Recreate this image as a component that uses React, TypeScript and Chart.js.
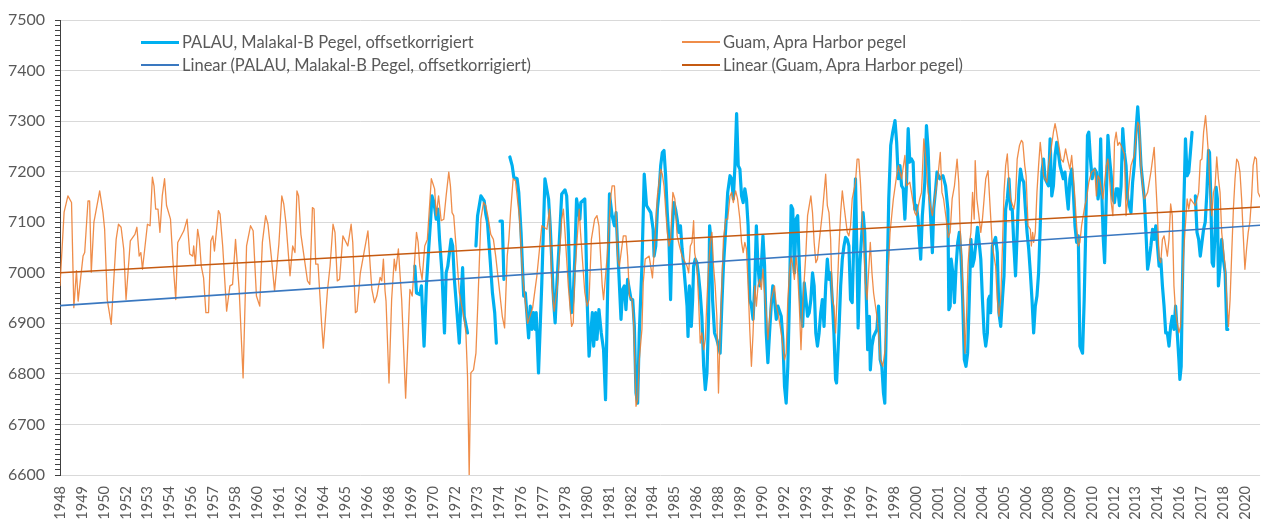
import React, { useEffect, useRef } from 'react';
import { Chart, registerables } from 'chart.js';

Chart.register(...registerables);

// ---------- axis settings ----------
const yMin = 6600;
const yMax = 7500;
const yMajorStep = 100;
const yMinorStep = 10;
const xStart = 1948;
const xEnd = 2020.88;
const labelStepMonths = 16;

const seriesNames = [
  'PALAU, Malakal-B Pegel, offsetkorrigiert',
  'Guam, Apra Harbor pegel',
  'Linear (PALAU, Malakal-B Pegel, offsetkorrigiert)',
  'Linear (Guam, Apra Harbor pegel)',
];

// ---------- Guam, Apra Harbor (decimal year / level) ----------
const guamYears = [
  1948.00, 1948.25, 1948.48, 1948.70, 1948.84, 1949.00, 1949.10, 1949.40, 1949.50, 1949.70, 1949.80, 1949.90,
  1950.06, 1950.41, 1950.61, 1950.71, 1950.87, 1951.11, 1951.41, 1951.55, 1951.71, 1951.87, 1952.01, 1952.27,
  1952.55, 1952.67, 1952.81, 1952.91, 1953.01, 1953.31, 1953.47, 1953.61, 1953.71, 1953.81, 1953.95, 1954.07,
  1954.21, 1954.35, 1954.47, 1954.71, 1954.85, 1955.03, 1955.15, 1955.52, 1955.72, 1955.88, 1956.06, 1956.12,
  1956.22, 1956.36, 1956.46, 1956.58, 1956.72, 1956.86, 1957.02, 1957.16, 1957.28, 1957.38, 1957.62, 1957.72,
  1957.88, 1958.12, 1958.32, 1958.48, 1958.66, 1958.88, 1959.12, 1959.33, 1959.57, 1959.73, 1959.93, 1960.13,
  1960.29, 1960.49, 1960.63, 1960.83, 1961.03, 1961.29, 1961.47, 1961.59, 1961.73, 1961.97, 1962.13, 1962.27,
  1962.39, 1962.49, 1962.63, 1963.03, 1963.17, 1963.33, 1963.43, 1963.53, 1963.67, 1963.89, 1963.99, 1964.24,
  1964.40, 1964.58, 1964.70, 1964.84, 1964.98, 1965.18, 1965.48, 1965.68, 1965.78, 1965.94, 1966.04, 1966.24,
  1966.50, 1966.70, 1966.84, 1966.94, 1967.10, 1967.24, 1967.44, 1967.54, 1967.64, 1967.74, 1967.80, 1967.98,
  1968.14, 1968.30, 1968.39, 1968.55, 1968.75, 1968.99, 1969.25, 1969.39, 1969.65, 1969.75, 1969.85, 1969.99,
  1970.15, 1970.31, 1970.45, 1970.55, 1970.65, 1970.75, 1970.85, 1970.99, 1971.15, 1971.31, 1971.45, 1971.61,
  1971.71, 1971.81, 1971.91, 1972.05, 1972.25, 1972.55, 1972.65, 1972.75, 1972.85, 1972.95, 1973.11, 1973.26,
  1973.40, 1973.56, 1973.72, 1973.86, 1974.00, 1974.16, 1974.32, 1974.46, 1974.66, 1974.86, 1975.00, 1975.16,
  1975.26, 1975.36, 1975.52, 1975.66, 1975.90, 1976.10, 1976.40, 1976.70, 1976.96, 1977.16, 1977.26, 1977.57,
  1977.73, 1977.87, 1978.01, 1978.21, 1978.47, 1978.57, 1978.67, 1978.87, 1979.07, 1979.17, 1979.27, 1979.53,
  1979.61, 1979.87, 1980.01, 1980.13, 1980.27, 1980.47, 1980.61, 1980.73, 1980.93, 1981.01, 1981.23, 1981.43,
  1981.53, 1981.67, 1981.77, 1981.87, 1981.97, 1982.21, 1982.37, 1982.47, 1982.58, 1982.74, 1982.84, 1982.98,
  1983.08, 1983.18, 1983.34, 1983.42, 1983.54, 1983.78, 1983.98, 1984.08, 1984.28, 1984.48, 1984.58, 1984.68,
  1984.78, 1984.88, 1984.98, 1985.08, 1985.22, 1985.34, 1985.48, 1985.62, 1985.78, 1986.08, 1986.18, 1986.28,
  1986.38, 1986.48, 1986.54, 1986.68, 1986.78, 1986.88, 1986.98, 1987.09, 1987.19, 1987.29, 1987.39, 1987.49,
  1987.59, 1987.69, 1987.79, 1987.89, 1987.99, 1988.09, 1988.19, 1988.29, 1988.43, 1988.55, 1988.69, 1988.79,
  1988.89, 1989.03, 1989.15, 1989.29, 1989.39, 1989.49, 1989.59, 1989.69, 1989.79, 1989.89, 1989.99, 1990.09,
  1990.19, 1990.29, 1990.39, 1990.49, 1990.59, 1990.69, 1990.79, 1990.89, 1990.99, 1991.09, 1991.19, 1991.39,
  1991.50, 1991.60, 1991.80, 1992.00, 1992.10, 1992.20, 1992.30, 1992.40, 1992.50, 1992.60, 1992.70, 1992.80,
  1992.90, 1993.00, 1993.10, 1993.30, 1993.40, 1993.60, 1993.70, 1993.80, 1993.90, 1994.00, 1994.10, 1994.30,
  1994.50, 1994.60, 1994.70, 1994.80, 1994.90, 1995.00, 1995.10, 1995.20, 1995.30, 1995.41, 1995.51, 1995.61,
  1995.81, 1995.91, 1996.01, 1996.11, 1996.31, 1996.41, 1996.51, 1996.61, 1996.71, 1996.81, 1996.91, 1997.01,
  1997.21, 1997.31, 1997.41, 1997.61, 1997.71, 1997.81, 1997.97, 1998.11, 1998.21, 1998.41, 1998.61, 1998.81,
  1998.91, 1999.11, 1999.31, 1999.41, 1999.61, 1999.91, 2000.01, 2000.21, 2000.32, 2000.46, 2000.58, 2000.72,
  2000.86, 2000.98, 2001.12, 2001.32, 2001.46, 2001.56, 2001.66, 2001.82, 2001.95, 2002.06, 2002.18, 2002.32,
  2002.48, 2002.58, 2002.66, 2002.78, 2002.88, 2002.96, 2003.06, 2003.14, 2003.22, 2003.32, 2003.42, 2003.52,
  2003.58, 2003.68, 2003.78, 2003.92, 2004.02, 2004.12, 2004.22, 2004.36, 2004.62, 2004.82, 2004.92, 2005.02,
  2005.13, 2005.23, 2005.33, 2005.43, 2005.53, 2005.63, 2005.73, 2005.93, 2006.03, 2006.13, 2006.27, 2006.39,
  2006.47, 2006.59, 2006.67, 2006.79, 2006.93, 2006.99, 2007.07, 2007.13, 2007.23, 2007.33, 2007.43, 2007.53,
  2007.63, 2007.73, 2007.93, 2008.03, 2008.19, 2008.33, 2008.43, 2008.53, 2008.63, 2008.79, 2008.93, 2009.07,
  2009.19, 2009.33, 2009.44, 2009.54, 2009.64, 2009.74, 2009.84, 2009.94, 2010.04, 2010.24, 2010.34, 2010.48,
  2010.64, 2010.84, 2010.94, 2011.04, 2011.14, 2011.34, 2011.54, 2011.64, 2011.74, 2011.84, 2011.94, 2012.04,
  2012.14, 2012.24, 2012.34, 2012.44, 2012.64, 2012.74, 2012.94, 2013.04, 2013.24, 2013.34, 2013.45, 2013.55,
  2013.65, 2013.75, 2013.85, 2014.05, 2014.25, 2014.45, 2014.55, 2014.65, 2014.75, 2014.85, 2014.95, 2015.05,
  2015.15, 2015.25, 2015.35, 2015.45, 2015.55, 2015.65, 2015.75, 2015.95, 2016.05, 2016.15, 2016.25, 2016.45,
  2016.55, 2016.65, 2016.95, 2017.15, 2017.25, 2017.35, 2017.45, 2017.57, 2017.65, 2017.75, 2017.85, 2017.95,
  2018.05, 2018.15, 2018.25, 2018.35, 2018.45, 2018.55, 2018.65, 2018.76, 2018.86, 2018.96, 2019.06, 2019.16,
  2019.26, 2019.36, 2019.46, 2019.56, 2019.66, 2019.76, 2019.86, 2019.96, 2020.06, 2020.16, 2020.26, 2020.36,
  2020.46, 2020.56, 2020.66, 2020.76, 2020.88,
];
const guamLevels = [
  6975, 7120, 7152, 7139, 6931, 7004, 6944, 7033, 7040, 7142, 7142, 7001,
  7100, 7162, 7119, 7086, 6947, 6898, 7066, 7096, 7090, 7047, 6947, 7063,
  7076, 7090, 7033, 7040, 7007, 7096, 7093, 7189, 7172, 7126, 7126, 7080,
  7152, 7186, 7133, 7106, 7027, 6947, 7060, 7083, 7106, 7037, 7033, 7053,
  7017, 7086, 7066, 7013, 6990, 6921, 6921, 7063, 7073, 7043, 7123, 7116,
  7053, 6924, 6974, 6977, 7066, 6967, 6792, 7053, 7093, 7083, 6954, 6934,
  7060, 7113, 7096, 7033, 6964, 7056, 7152, 7136, 7096, 6994, 7053, 7040,
  7162, 7152, 7076, 6984, 6977, 7129, 7126, 7017, 7017, 6898, 6851, 6964,
  7013, 7096, 7080, 6984, 6987, 7073, 7053, 7096, 7060, 6921, 6924, 7000,
  7047, 7083, 7013, 6967, 6941, 6954, 6991, 6984, 7027, 6964, 6944, 6782,
  6947, 7027, 7004, 7047, 6947, 6752, 6967, 6954, 7080, 7060, 7013, 6987,
  7053, 7066, 7136, 7186, 7176, 7166, 7113, 7152, 7103, 7106, 7152, 7199,
  7172, 7119, 7113, 7053, 6961, 6908, 6881, 6795, 6600, 6802, 6808, 6841,
  6961, 7106, 7139, 7133, 7109, 7076, 7066, 7033, 6974, 6914, 6891, 7033,
  7066, 7119, 7186, 7182, 7110, 6990, 6900, 6930, 6994, 7060, 7093, 7086,
  7126, 6974, 6924, 6974, 7106, 7126, 7080, 6974, 6894, 6901, 7001, 7126,
  7080, 6961, 6934, 6947, 7066, 7106, 7113, 7093, 6974, 6947, 7033, 7146,
  7172, 7172, 7113, 7027, 7013, 7073, 7073, 7033, 6954, 6947, 6901, 6736,
  6749, 6828, 6888, 6980, 7027, 7033, 6990, 7040, 7152, 7205, 7195, 7172,
  7126, 7080, 7053, 7066, 7159, 7146, 7073, 7053, 7033, 7013, 7000, 7053,
  7060, 7103, 7040, 7013, 6947, 6861, 6881, 6848, 6868, 6947, 7013, 7060,
  7080, 7013, 6974, 6914, 6762, 6881, 6974, 7066, 7106, 7106, 7152, 7159,
  7139, 7162, 7146, 7106, 7060, 7040, 7060, 7047, 6974, 6888, 6815, 6881,
  6974, 6934, 6974, 6987, 6967, 7007, 6960, 6921, 6868, 6908, 6947, 6974,
  6934, 6921, 6881, 6828, 6841, 6947, 7000, 7033, 7013, 6987, 7033, 7000,
  6934, 6848, 6934, 7040, 7113, 7152, 7119, 7060, 7020, 7027, 7060, 7119,
  7195, 7133, 7119, 7066, 6947, 6934, 6881, 6960, 7047, 7119, 7162, 7133,
  7080, 7073, 7093, 7146, 7179, 7225, 7225, 7179, 7113, 7060, 6980, 6947,
  7060, 7000, 6960, 6914, 6881, 6828, 6815, 6848, 6947, 7080, 7146, 7192,
  7212, 7186, 7232, 7172, 7179, 7119, 7113, 7146, 7159, 7265, 7225, 7159,
  7133, 7113, 7146, 7192, 7238, 7159, 7146, 7106, 7070, 7080, 7146, 7172,
  7225, 7179, 7093, 7013, 6921, 6841, 6921, 7013, 7053, 7080, 7159, 7106,
  7222, 7146, 7119, 7080, 7106, 7146, 7186, 7202, 7053, 7013, 6947, 6914,
  6947, 7047, 7159, 7212, 7235, 7179, 7146, 7126, 7146, 7225, 7252, 7262,
  7258, 7212, 7192, 7093, 7086, 7053, 7080, 7060, 7080, 7159, 7212, 7258,
  7225, 7192, 7179, 7212, 7245, 7278, 7295, 7278, 7258, 7225, 7219, 7245,
  7225, 7205, 7232, 7192, 7146, 7093, 7053, 7060, 7093, 7133, 7146, 7179,
  7199, 7205, 7152, 7192, 7186, 7146, 7212, 7225, 7186, 7139, 7113, 7258,
  7278, 7252, 7258, 7252, 7235, 7113, 7179, 7212, 7232, 7265, 7298, 7291,
  7212, 7172, 7146, 7159, 7199, 7248, 7179, 7113, 7027, 7020, 7066, 7073,
  7053, 7033, 7066, 7136, 7113, 6974, 6921, 6881, 6894, 6974, 7047, 7146,
  7126, 7146, 7133, 7159, 7222, 7225, 7278, 7311, 7278, 7232, 7159, 7113,
  7159, 7172, 7229, 7186, 7159, 7080, 7047, 7013, 6947, 6894, 6947, 7040,
  7126, 7186, 7225, 7219, 7199, 7146, 7073, 7007, 7047, 7080, 7100, 7146,
  7212, 7229, 7225, 7159, 7150,
];

// ---------- PALAU, Malakal-B (decimal year / level, null = no data) ----------
const palauYears = [
  1969.55, 1969.65, 1969.85, 1969.95, 1970.11, 1970.25, 1970.39, 1970.51, 1970.59, 1970.71, 1970.85, 1970.95,
  1971.05, 1971.19, 1971.35, 1971.45, 1971.55, 1971.75, 1971.85, 1971.95, 1972.11, 1972.25, 1972.35, 1972.45,
  1972.55, 1972.75, 1973.00, 1973.26, 1973.36, 1973.56, 1973.76, 1973.86, 1973.96, 1974.12, 1974.26, 1974.40,
  1974.50, 1974.60, 1974.72, 1974.86, 1974.96, 1975.15, 1975.32, 1975.46, 1975.56, 1975.76, 1975.86, 1976.00,
  1976.16, 1976.26, 1976.46, 1976.56, 1976.66, 1976.76, 1976.86, 1976.92, 1977.06, 1977.26, 1977.45, 1977.67,
  1977.77, 1977.97, 1978.07, 1978.17, 1978.33, 1978.47, 1978.67, 1978.77, 1978.87, 1978.97, 1979.07, 1979.17,
  1979.27, 1979.37, 1979.57, 1979.63, 1979.87, 1979.93, 1980.01, 1980.13, 1980.33, 1980.41, 1980.53, 1980.61,
  1980.73, 1980.87, 1981.01, 1981.13, 1981.21, 1981.37, 1981.53, 1981.67, 1981.77, 1981.87, 1982.07, 1982.17,
  1982.27, 1982.37, 1982.47, 1982.68, 1982.78, 1982.88, 1982.98, 1983.08, 1983.18, 1983.34, 1983.48, 1983.62,
  1983.88, 1984.02, 1984.08, 1984.18, 1984.28, 1984.38, 1984.48, 1984.58, 1984.68, 1984.78, 1984.88, 1984.98,
  1985.08, 1985.18, 1985.28, 1985.38, 1985.48, 1985.58, 1985.68, 1985.78, 1985.88, 1985.98, 1986.08, 1986.14,
  1986.22, 1986.28, 1986.34, 1986.42, 1986.48, 1986.58, 1986.68, 1986.78, 1986.88, 1986.98, 1987.09, 1987.19,
  1987.29, 1987.39, 1987.45, 1987.55, 1987.63, 1987.75, 1987.89, 1987.99, 1988.09, 1988.19, 1988.29, 1988.39,
  1988.55, 1988.69, 1988.79, 1988.89, 1988.99, 1989.09, 1989.19, 1989.29, 1989.39, 1989.49, 1989.59, 1989.69,
  1989.79, 1989.89, 1989.99, 1990.09, 1990.19, 1990.29, 1990.39, 1990.49, 1990.59, 1990.69, 1990.79, 1990.89,
  1990.99, 1991.09, 1991.19, 1991.29, 1991.39, 1991.50, 1991.60, 1991.80, 1991.90, 1992.00, 1992.10, 1992.20,
  1992.30, 1992.40, 1992.50, 1992.60, 1992.70, 1992.80, 1992.90, 1993.00, 1993.10, 1993.20, 1993.30, 1993.40,
  1993.50, 1993.60, 1993.70, 1993.80, 1993.90, 1994.00, 1994.10, 1994.20, 1994.30, 1994.40, 1994.50, 1994.60,
  1994.70, 1994.80, 1994.90, 1995.00, 1995.10, 1995.16, 1995.30, 1995.41, 1995.51, 1995.61, 1995.71, 1995.81,
  1995.91, 1996.01, 1996.11, 1996.21, 1996.31, 1996.41, 1996.47, 1996.57, 1996.67, 1996.77, 1996.87, 1996.97,
  1997.05, 1997.15, 1997.21, 1997.31, 1997.41, 1997.61, 1997.71, 1997.81, 1997.91, 1998.01, 1998.09, 1998.17,
  1998.25, 1998.33, 1998.45, 1998.57, 1998.71, 1998.81, 1998.91, 1999.01, 1999.11, 1999.21, 1999.31, 1999.41,
  1999.51, 1999.61, 1999.71, 1999.81, 1999.91, 2000.01, 2000.11, 2000.27, 2000.37, 2000.52, 2000.62, 2000.72,
  2000.82, 2000.92, 2000.98, 2001.06, 2001.18, 2001.26, 2001.42, 2001.62, 2001.78, 2001.92, 2001.98, 2002.06,
  2002.12, 2002.22, 2002.32, 2002.42, 2002.52, 2002.62, 2002.72, 2002.82, 2002.92, 2003.02, 2003.12, 2003.22,
  2003.32, 2003.42, 2003.52, 2003.72, 2003.82, 2003.92, 2004.02, 2004.12, 2004.22, 2004.32, 2004.38, 2004.46,
  2004.52, 2004.62, 2004.82, 2004.92, 2005.02, 2005.13, 2005.23, 2005.33, 2005.43, 2005.53, 2005.63, 2005.73,
  2005.83, 2005.93, 2006.03, 2006.13, 2006.23, 2006.33, 2006.43, 2006.53, 2006.63, 2006.73, 2006.83, 2006.93,
  2007.03, 2007.13, 2007.23, 2007.33, 2007.43, 2007.53, 2007.63, 2007.73, 2007.83, 2008.03, 2008.13, 2008.23,
  2008.33, 2008.43, 2008.53, 2008.63, 2008.73, 2008.93, 2009.03, 2009.13, 2009.23, 2009.33, 2009.44, 2009.54,
  2009.64, 2009.74, 2009.84, 2009.94, 2010.10, 2010.20, 2010.28, 2010.40, 2010.48, 2010.58, 2010.68, 2010.84,
  2010.94, 2011.04, 2011.14, 2011.20, 2011.28, 2011.36, 2011.44, 2011.54, 2011.64, 2011.74, 2011.84, 2011.94,
  2012.04, 2012.14, 2012.24, 2012.34, 2012.44, 2012.54, 2012.64, 2012.74, 2012.84, 2013.04, 2013.14, 2013.24,
  2013.34, 2013.45, 2013.55, 2013.65, 2013.75, 2013.85, 2013.95, 2014.05, 2014.15, 2014.25, 2014.35, 2014.45,
  2014.55, 2014.65, 2014.75, 2014.85, 2014.95, 2015.05, 2015.15, 2015.25, 2015.35, 2015.45, 2015.55, 2015.65,
  2015.75, 2015.85, 2015.95, 2016.01, 2016.09, 2016.15, 2016.25, 2016.35, 2016.45, 2016.55, 2016.65, 2016.75,
  2016.85, 2016.95, 2017.05, 2017.15, 2017.25, 2017.35, 2017.45, 2017.55, 2017.65, 2017.75, 2017.81, 2017.89,
  2017.97, 2018.05, 2018.15, 2018.21, 2018.29, 2018.35, 2018.45, 2018.55, 2018.65, 2018.76, 2018.86, 2018.92,
];
const palauLevels = [
  7013, 6960, 6957, 6974, 6855, 6974, 7047, 7106, 7152, 7139, 7106, 7126,
  7066, 7004, 6881, 7000, 7013, 7066, 7053, 6987, 6921, 6861, 6947, 7010,
  6914, 6881, null, 7053, 7113, 7152, 7142, 7116, 7100, 7027, 6961, 6921,
  6861, null, 7102, 7102, 6987, null, 7229, 7212, 7189, 7186, 7159, 7080,
  6954, 6960, 6871, 6934, 6888, 6921, 6888, 6921, 6802, 6980, 7186, 7146,
  7093, 6947, 6901, 6974, 7066, 7156, 7164, 7152, 7080, 6974, 6921, 6954,
  7033, 7146, 7106, 7139, 7146, 7080, 6947, 6835, 6921, 6855, 6921, 6868,
  6927, 6881, 6848, 6749, 6881, 7156, 7113, 7093, 7119, 7047, 6908, 6967,
  6974, 6927, 6987, 6947, 6947, 6894, 6762, 6742, 6881, 7013, 7195, 7133,
  7119, 7086, 7033, 7053, 7126, 7159, 7212, 7238, 7242, 7192, 7119, 7066,
  6947, 7086, 7139, 7126, 7106, 7080, 7093, 7047, 7013, 6974, 6934, 6874,
  6974, 6960, 6894, 6947, 7013, 7027, 7020, 6994, 6960, 6914, 6815, 6769,
  6802, 6914, 7093, 7060, 6947, 6881, 6868, 6855, 6841, 6934, 7013, 7066,
  7159, 7192, 7186, 7146, 7212, 7315, 7212, 7205, 7152, 7139, 7166, 7146,
  7093, 6947, 6934, 6908, 6974, 7093, 7013, 6974, 7013, 7073, 7013, 6881,
  6822, 6881, 6934, 6974, 6947, 6908, 6934, 6914, 6868, 6775, 6742, 6815,
  6947, 7133, 7126, 7000, 7106, 7113, 7013, 6921, 6894, 6980, 6947, 6914,
  6921, 6947, 7000, 6974, 6881, 6855, 6881, 6921, 6947, 6894, 6974, 7027,
  6987, 7000, 6947, 6881, 6789, 6782, 6881, 6974, 7027, 7053, 7070, 7066,
  7053, 6947, 6941, 7066, 7186, 7013, 6891, 7013, 7066, 7119, 7080, 6947,
  6848, 6914, 6808, 6855, 6874, 6888, 6934, 6828, 6815, 6762, 6742, 6881,
  7013, 7146, 7252, 7278, 7301, 7258, 7186, 7212, 7172, 7166, 7106, 7179,
  7285, 7219, 7225, 7219, 7126, 7133, 7106, 7027, 7113, 7179, 7291, 7245,
  7146, 7080, 7040, 7126, 7166, 7199, 7186, 7192, 7172, 7126, 6927, 6934,
  7027, 7000, 6941, 7013, 7060, 7080, 7033, 6947, 6828, 6815, 6841, 6947,
  7066, 7013, 7027, 7090, 7060, 7027, 6947, 6881, 6855, 6881, 6947, 6954,
  6921, 7053, 7070, 7040, 6921, 6894, 6947, 6994, 7126, 7146, 7186, 7126,
  7126, 7053, 6994, 7080, 7166, 7205, 7186, 7179, 7126, 7080, 7047, 7000,
  6947, 6881, 6934, 6954, 7000, 7093, 7199, 7225, 7186, 7172, 7265, 7152,
  7172, 7232, 7258, 7238, 7212, 7186, 7199, 7159, 7126, 7186, 7205, 7159,
  7093, 7060, 7073, 6855, 6841, 6947, 7066, 7272, 7278, 7225, 7186, 7205,
  7199, 7146, 7172, 7265, 7146, 7066, 7020, 7146, 7272, 7225, 7192, 7146,
  7139, 7166, 7166, 7133, 7172, 7285, 7238, 7212, 7146, 7119, 7179, 7212,
  7278, 7328, 7278, 7212, 7179, 7146, 7080, 7007, 7027, 7053, 7086, 7066,
  7093, 7053, 7013, 7027, 6974, 6934, 6881, 6881, 6855, 6894, 6914, 6888,
  6934, 6881, 6828, 6789, 6815, 6947, 7133, 7265, 7192, 7199, 7238, 7278,
  null, 7152, 7080, 7066, 7033, 7060, 7086, 7100, 7159, 7242, 7238, 7146,
  7020, 7013, 7080, 7169, 7146, 6974, 7013, 7066, 7027, 7000, 6888, 6888,
];

// ---------- linear trend lines (start / end values) ----------
const trendYears = [xStart, xEnd];
const palauTrend = [6935, 7094];
const guamTrend = [7000, 7130];

// ---------- colours ----------
const palauColor = '#00b0f0';
const guamColor = 'rgba(237,125,49,0.88)';
const palauTrendColor = '#3a78c0';
const guamTrendColor = '#c55a11';
const textColor = '#595959';
const fontFamily = 'Lato, "Open Sans", sans-serif';

const toPoints = (xs: number[], ys: (number | null)[]) => xs.map((x, i) => ({ x, y: ys[i] }));

const xTickValues: number[] = [];
for (let m = 0; xStart + m / 12 <= xEnd + 1e-9; m += labelStepMonths) {
  xTickValues.push(xStart + m / 12);
}

export default function App() {
  const canvasRef = useRef<HTMLCanvasElement | null>(null);

  useEffect(() => {
    const canvas = canvasRef.current;
    if (!canvas) return;
    const chart = new Chart(canvas, {
      type: 'line',
      data: {
        datasets: [
          {
            label: seriesNames[3],
            data: toPoints(trendYears, guamTrend),
            borderColor: guamTrendColor,
            borderWidth: 1.6,
            pointRadius: 0,
            order: 0,
          },
          {
            label: seriesNames[2],
            data: toPoints(trendYears, palauTrend),
            borderColor: palauTrendColor,
            borderWidth: 1.6,
            pointRadius: 0,
            order: 1,
          },
          {
            label: seriesNames[1],
            data: toPoints(guamYears, guamLevels),
            borderColor: guamColor,
            borderWidth: 1.3,
            pointRadius: 0,
            tension: 0,
            order: 2,
          },
          {
            label: seriesNames[0],
            data: toPoints(palauYears, palauLevels),
            borderColor: palauColor,
            borderWidth: 3.2,
            pointRadius: 0,
            tension: 0,
            spanGaps: false,
            order: 3,
          },
        ],
      },
      options: {
        animation: false,
        responsive: false,
        devicePixelRatio: 1,
        layout: { padding: { top: 20, right: 2, left: 0, bottom: 0 } },
        plugins: { legend: { display: false }, tooltip: { enabled: false } },
        elements: { line: { borderCapStyle: 'round', borderJoinStyle: 'round' } },
        scales: {
          x: {
            type: 'linear',
            min: xStart,
            max: xEnd,
            afterBuildTicks: (scale: any) => {
              scale.ticks = xTickValues.map((v) => ({ value: v }));
            },
            afterFit: (scale: any) => {
              scale.height = 47;
            },
            grid: { display: false, drawTicks: false },
            border: { display: false },
            ticks: {
              autoSkip: false,
              minRotation: 90,
              maxRotation: 90,
              padding: 11,
              color: textColor,
              font: { family: fontFamily, size: 14.5 },
              callback: (v: any) => String(Math.floor(Number(v) + 1e-6)),
            },
          },
          y: {
            type: 'linear',
            min: yMin,
            max: yMax,
            afterFit: (scale: any) => {
              scale.width = 60;
            },
            border: { display: true, color: '#404040', width: 1 },
            grid: {
              color: (ctx: any) =>
                ctx.tick && Math.abs(ctx.tick.value % yMajorStep) < 1e-6 ? '#d9d9d9' : 'rgba(0,0,0,0)',
              lineWidth: 1,
              tickColor: '#404040',
              tickLength: 5,
            },
            ticks: {
              stepSize: yMinorStep,
              autoSkip: false,
              padding: 10,
              color: textColor,
              font: { family: fontFamily, size: 16 },
              callback: (v: any) => (Math.abs(Number(v) % yMajorStep) < 1e-6 ? String(v) : ''),
            },
          },
        },
      } as any,
    });
    return () => chart.destroy();
  }, []);

  const legendText: React.CSSProperties = {
    position: 'absolute',
    fontFamily,
    fontSize: 16.5,
    color: textColor,
    whiteSpace: 'nowrap',
    lineHeight: '20px',
  };
  const legendItem = (left: number, top: number, color: string, width: number, text: string) => (
    <div key={text}>
      <div
        style={{
          position: 'absolute',
          left,
          top: top - width / 2,
          width: 38,
          height: width,
          background: color,
        }}
      />
      <div style={{ ...legendText, left: left + 41, top: top - 10 }}>{text}</div>
    </div>
  );

  return (
    <div style={{ position: 'fixed', left: 0, top: 0, width: 1274, height: 522, background: '#ffffff' }}>
      <canvas ref={canvasRef} width={1274} height={522} style={{ display: 'block' }} />
      {legendItem(141, 42, palauColor, 3, seriesNames[0])}
      {legendItem(141, 65, palauTrendColor, 1.6, seriesNames[2])}
      {legendItem(682, 42, guamColor, 1.5, seriesNames[1])}
      {legendItem(682, 65, guamTrendColor, 1.8, seriesNames[3])}
    </div>
  );
}
